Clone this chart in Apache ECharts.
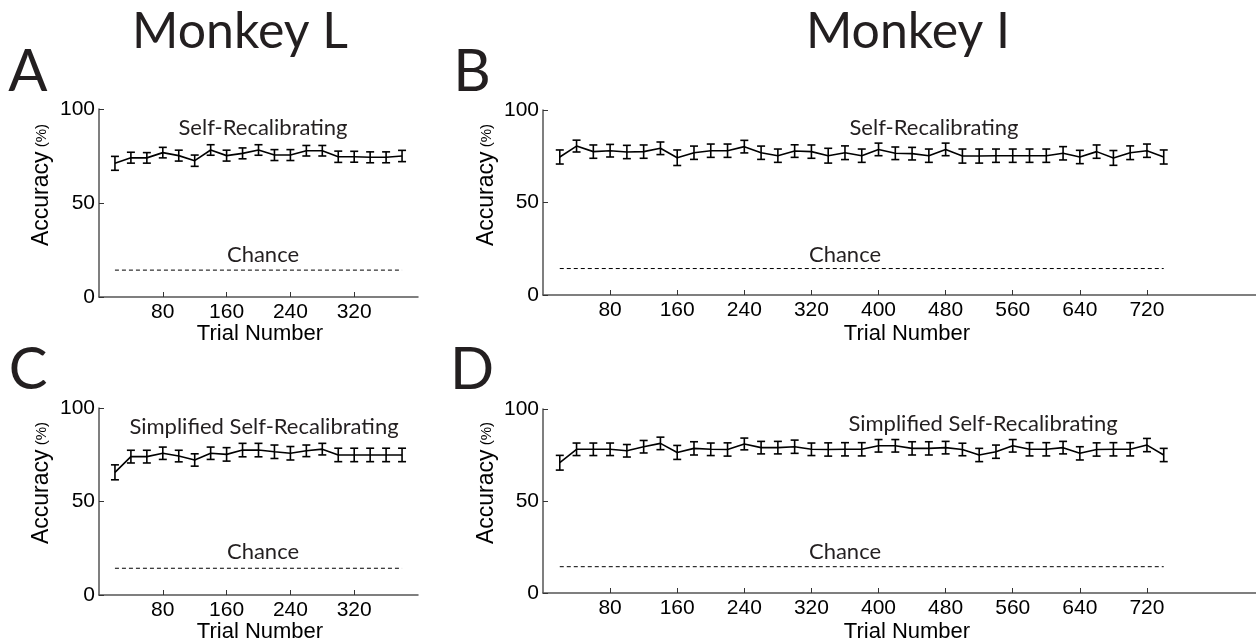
<!DOCTYPE html>
<html>
<head>
<meta charset="utf-8">
<script src="https://cdn.jsdelivr.net/npm/echarts@6/dist/echarts.min.js"></script>
<style>html,body{margin:0;padding:0;background:#fff;}#c{width:1256px;height:643px;}</style>
</head>
<body>
<div id="c"></div>
<script>
// ---- Data ----
const trialsL = [20,40,60,80,100,120,140,160,180,200,220,240,260,280,300,320,340,360,380];
const trialsI = [20,40,60,80,100,120,140,160,180,200,220,240,260,280,300,320,340,360,380,400,
                 420,440,460,480,500,520,540,560,580,600,620,640,660,680,700,720,740];

const accA = [71.1,74.1,74.0,76.8,75.2,72.5,78.2,75.2,76.4,78.2,75.5,75.5,77.8,77.8,74.6,74.6,74.3,74.3,75.0];
const errA = [3.7,2.9,2.8,2.8,2.9,3.0,2.8,2.9,2.9,2.8,2.9,2.9,2.8,2.8,3.0,2.9,2.9,2.9,3.0];

const accB = [74.6,80.5,77.5,78.0,77.3,77.5,79.3,74.2,76.9,78.0,78.0,80.2,76.9,75.3,77.8,77.5,75.3,76.9,75.3,78.7,
              76.6,76.4,75.3,78.7,75.1,75.1,75.3,75.3,75.3,75.3,76.6,74.6,77.5,74.1,76.9,78.0,74.6];
const errB = [3.8,3.2,3.6,3.4,3.6,3.6,3.4,4.2,3.6,3.6,3.6,3.4,3.6,3.6,3.4,3.6,4.0,3.7,3.6,3.4,
              3.4,3.4,3.6,3.4,3.8,3.8,3.6,3.6,3.6,3.6,3.6,3.6,3.6,4.0,3.7,3.6,3.8];

const accC = [65.6,74.0,74.0,75.8,74.3,72.2,75.8,75.2,77.5,77.5,76.6,75.8,77.1,78.0,74.9,74.9,74.9,74.9,74.9];
const errC = [4.0,3.4,3.4,3.3,3.1,3.3,3.3,3.6,3.6,3.6,3.6,3.6,3.1,3.1,3.6,3.6,3.6,3.6,3.6];

const accD = [70.8,78.1,78.1,78.1,77.3,79.5,81.3,76.4,78.6,78.1,78.0,81.0,79.0,79.0,79.5,78.1,78.0,78.1,78.1,80.0,
              80.0,78.6,78.6,79.0,78.0,75.0,76.8,80.0,78.1,78.1,79.0,75.9,78.0,78.1,78.1,80.4,75.0];
const errD = [4.0,3.4,3.4,3.4,3.4,3.4,3.4,3.8,3.6,3.4,3.6,3.2,3.4,3.4,3.6,3.4,3.6,3.6,3.6,3.4,
              3.4,3.6,3.6,3.4,3.4,3.6,3.6,3.4,3.6,3.6,3.4,3.6,3.6,3.6,3.6,3.6,3.6];

const chance = 14.3;
const chanceSpanL = [20, 380];
const chanceSpanI = [20, 740];

const xTicksL = [80,160,240,320];
const xTicksI = [80,160,240,320,400,480,560,640,720];
const yTicks = [0,50,100];
const xMaxL = 400, xMaxI = 850;

// ---- Helpers ----
const SANS = "'Liberation Sans', Arial, sans-serif";
const HUM = "Lato, 'Open Sans', sans-serif";

function xAxisCfg(idx, max, ticks) {
  return {
    type: 'value', gridIndex: idx, min: 0, max: max,
    axisLine: {show: true, onZero: false, lineStyle: {color: '#555', width: 1.5}},
    axisTick: {show: true, inside: true, length: 5, customValues: ticks, lineStyle: {color: '#333', width: 1}},
    axisLabel: {show: true, customValues: ticks, fontSize: 21, color: '#000', fontFamily: SANS, margin: 5},
    splitLine: {show: false}
  };
}
function yAxisCfg(idx) {
  return {
    type: 'value', gridIndex: idx, min: 0, max: 100,
    axisLine: {show: true, onZero: false, lineStyle: {color: '#555', width: 1.5}},
    axisTick: {show: true, inside: true, length: 5, customValues: yTicks, lineStyle: {color: '#333', width: 1}},
    axisLabel: {show: true, customValues: yTicks, fontSize: 21, color: '#000', fontFamily: SANS, margin: 4},
    splitLine: {show: false}
  };
}
function lineSeries(idx, xs, ys) {
  return {
    type: 'line', xAxisIndex: idx, yAxisIndex: idx, symbol: 'none', silent: true,
    lineStyle: {color: '#000', width: 1.6}, data: xs.map((x, i) => [x, ys[i]]), z: 3
  };
}
function errSeries(idx, xs, ys, es) {
  return {
    type: 'custom', xAxisIndex: idx, yAxisIndex: idx, silent: true, z: 4,
    data: xs.map((x, i) => [x, ys[i], es[i]]),
    renderItem: function (params, api) {
      const x = api.value(0), y = api.value(1), e = api.value(2);
      const t = api.coord([x, y + e]), b = api.coord([x, y - e]);
      const w = 4;
      const st = {stroke: '#000', lineWidth: 1.6};
      return {type: 'group', children: [
        {type: 'line', shape: {x1: t[0], y1: t[1], x2: b[0], y2: b[1]}, style: st},
        {type: 'line', shape: {x1: t[0] - w, y1: t[1], x2: t[0] + w, y2: t[1]}, style: st},
        {type: 'line', shape: {x1: b[0] - w, y1: b[1], x2: b[0] + w, y2: b[1]}, style: st}
      ]};
    }
  };
}
function chanceSeries(idx, span) {
  return {
    type: 'line', xAxisIndex: idx, yAxisIndex: idx, symbol: 'none', silent: true,
    lineStyle: {color: '#000', width: 1, type: [4, 3]},
    data: [[span[0], chance], [span[1], chance]]
  };
}
function txt(x, y, s, size, family, fill) {
  return {type: 'text', x: x, y: y, silent: true,
    style: {text: s, font: size + 'px ' + family, fill: fill || '#231f20', textAlign: 'center', textVerticalAlign: 'middle'}};
}
function yName(x, yc) {
  return {type: 'text', x: x, y: yc, rotation: Math.PI / 2, silent: true,
    style: {rich: {a: {fontSize: 23, fontFamily: SANS, fill: '#000'}, b: {fontSize: 15, fontFamily: SANS, fill: '#000'}},
      text: '{a|Accuracy}{b| (%)}', textAlign: 'center', textVerticalAlign: 'middle'}};
}

const option = {
  animation: false,
  backgroundColor: '#fff',
  grid: [
    {left: 99, top: 109, width: 319, height: 188},
    {left: 543, top: 110, width: 713, height: 185},
    {left: 99, top: 408, width: 319, height: 187},
    {left: 543, top: 409, width: 713, height: 184}
  ],
  xAxis: [xAxisCfg(0, xMaxL, xTicksL), xAxisCfg(1, xMaxI, xTicksI), xAxisCfg(2, xMaxL, xTicksL), xAxisCfg(3, xMaxI, xTicksI)],
  yAxis: [yAxisCfg(0), yAxisCfg(1), yAxisCfg(2), yAxisCfg(3)],
  series: [
    lineSeries(0, trialsL, accA), errSeries(0, trialsL, accA, errA), chanceSeries(0, chanceSpanL),
    lineSeries(1, trialsI, accB), errSeries(1, trialsI, accB, errB), chanceSeries(1, chanceSpanI),
    lineSeries(2, trialsL, accC), errSeries(2, trialsL, accC, errC), chanceSeries(2, chanceSpanL),
    lineSeries(3, trialsI, accD), errSeries(3, trialsI, accD, errD), chanceSeries(3, chanceSpanI)
  ],
  graphic: [
    txt(240, 32, 'Monkey L', 50, HUM),
    txt(908, 32, 'Monkey I', 50, HUM),
    txt(28, 72, 'A', 58, HUM),
    txt(472, 72, 'B', 58, HUM),
    txt(28, 370, 'C', 58, HUM),
    txt(472, 370, 'D', 58, HUM),
    txt(263, 128, 'Self-Recalibrating', 22, HUM),
    txt(934, 128, 'Self-Recalibrating', 22, HUM),
    txt(264, 427, 'Simplified Self-Recalibrating', 22, HUM),
    txt(983, 424, 'Simplified Self-Recalibrating', 22, HUM),
    txt(263, 255, 'Chance', 22, HUM),
    txt(845, 255, 'Chance', 22, HUM),
    txt(263, 552, 'Chance', 22, HUM),
    txt(845, 552, 'Chance', 22, HUM),
    txt(260, 334, 'Trial Number', 22, SANS, '#000'),
    txt(907, 334, 'Trial Number', 22, SANS, '#000'),
    txt(260, 632, 'Trial Number', 22, SANS, '#000'),
    txt(907, 632, 'Trial Number', 22, SANS, '#000'),
    yName(42, 185),
    yName(487, 185),
    yName(42, 483),
    yName(487, 483)
  ]
};
echarts.init(document.getElementById('c')).setOption(option);
</script>
</body>
</html>
